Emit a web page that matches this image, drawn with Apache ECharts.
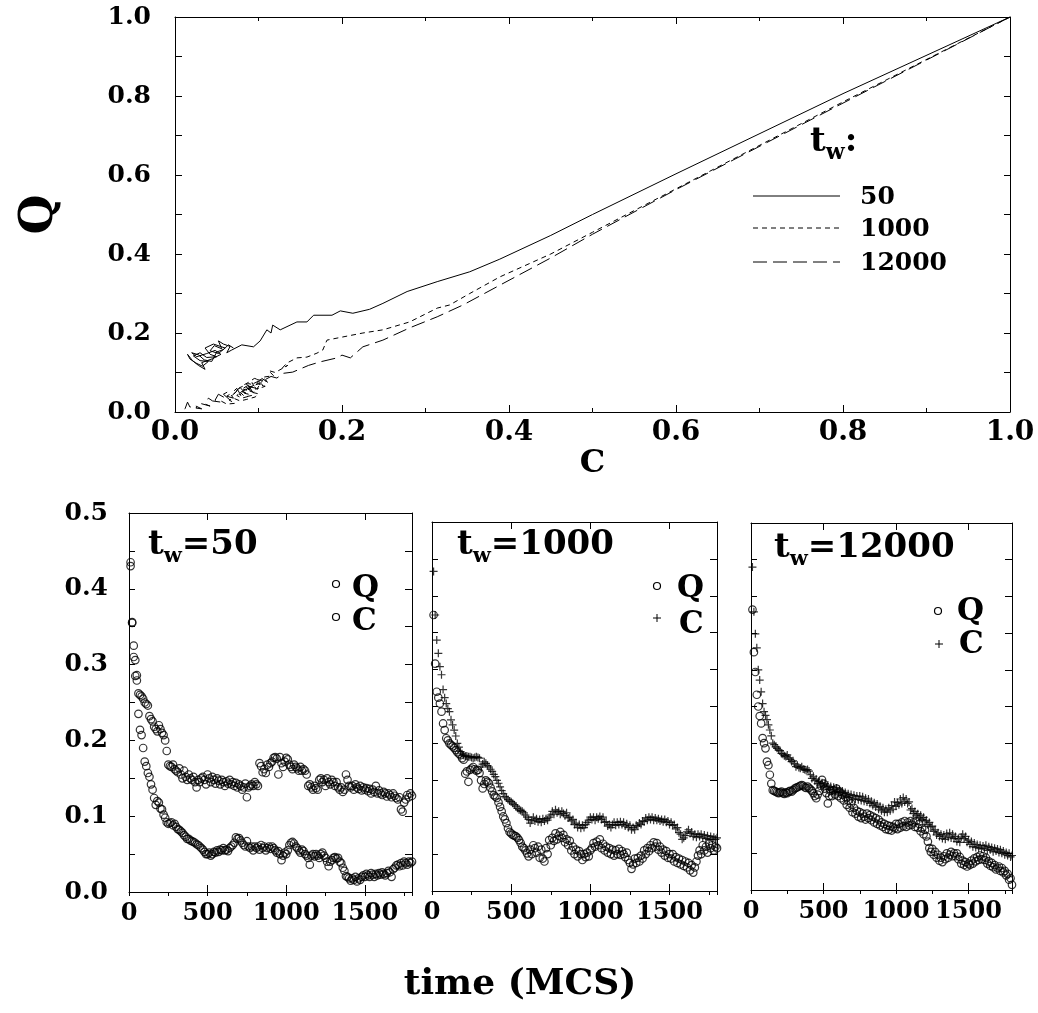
<!DOCTYPE html>
<html><head><meta charset="utf-8">
<script src="https://cdn.jsdelivr.net/npm/echarts@6/dist/echarts.min.js"></script>
<style>html,body{margin:0;padding:0;background:#fff}#c{width:1038px;height:1013px}</style>
</head><body><div id="c"></div>
<script>
// ---------------- data ----------------
// top panel: parametric Q vs C curves, one per waiting time t_w
const topC50 = [1.0,0.8,0.6,0.5,0.45,0.389,0.353,0.314,0.278,0.249,0.233,0.213,0.198,0.188,0.166,0.158,0.146,0.126,0.117,0.115,0.11,0.102,0.094,0.08,0.068,
  0.062,0.066,0.058,0.052,0.056,0.047,0.042,0.052,0.06,0.046,0.036,0.042,0.05,0.038,0.03,0.022,0.03,0.04,0.033,0.025,
  0.018,0.015,0.021,0.028,0.036,0.032,0.045,0.055,0.048,0.038,0.026,0.02,0.028,0.035,0.044,0.05,0.058,0.064,0.07];
const topQ50 = [1.0,0.806,0.603,0.5,0.447,0.387,0.355,0.33,0.305,0.275,0.26,0.25,0.256,0.245,0.245,0.228,0.228,0.208,0.22,0.2,0.208,0.18,0.165,0.17,0.157,
  0.15,0.166,0.172,0.18,0.16,0.168,0.155,0.148,0.162,0.172,0.162,0.146,0.14,0.138,0.15,0.142,0.13,0.128,0.116,0.124,
  0.134,0.146,0.13,0.118,0.108,0.125,0.135,0.146,0.156,0.148,0.14,0.15,0.145,0.132,0.128,0.152,0.158,0.17,0.162];
const topC1000 = [1.0,0.8,0.6,0.5,0.45,0.389,0.353,0.329,0.314,0.281,0.249,0.225,0.201,0.182,0.177,0.17,0.158,0.146,0.134,
  0.128,0.135,0.12,0.112,0.118,0.105,0.11,0.098,0.102,0.092,0.096,0.085,0.09,0.1,0.094,0.082,0.088,0.078,0.084,0.092,0.08,0.074,0.086,0.095,0.088,0.078,0.072,0.068,
  0.075,0.085,0.09,0.1,0.108,0.098,0.105,0.095,0.088,0.082,0.092,0.1,0.096,0.086,0.078,0.07,0.065,0.072,0.062,0.055];
const topQ1000 = [1.0,0.785,0.565,0.455,0.4,0.342,0.3,0.271,0.263,0.228,0.208,0.2,0.19,0.182,0.157,0.149,0.139,0.137,0.124,
  0.11,0.118,0.1,0.105,0.092,0.088,0.078,0.082,0.07,0.074,0.062,0.066,0.055,0.06,0.05,0.058,0.045,0.05,0.038,0.042,0.035,0.042,0.06,0.068,0.072,0.062,0.05,0.04,
  0.055,0.048,0.062,0.072,0.065,0.058,0.08,0.085,0.075,0.068,0.05,0.046,0.038,0.032,0.028,0.035,0.03,0.022,0.02,0.028];
const topC12000 = [1.0,0.8,0.6,0.5,0.45,0.389,0.345,0.314,0.281,0.249,0.225,0.21,0.2,0.194,0.174,0.16,0.141,0.13,0.122,
  0.115,0.108,0.112,0.104,0.098,0.106,0.1,0.092,0.097,0.09,0.085,0.093,0.088,0.08,0.084,0.078,0.072,0.079,0.074,0.068,
  0.062,0.07,0.064,0.058,0.066,0.058,0.052,0.048,0.055,0.045,0.04,0.036,0.042,0.03,0.025,0.032,0.022,0.018,0.015,0.012,0.01,0.008];
const topQ12000 = [1.0,0.782,0.563,0.45,0.39,0.321,0.271,0.241,0.213,0.182,0.165,0.137,0.144,0.137,0.127,0.118,0.101,0.098,0.086,
  0.09,0.082,0.074,0.085,0.072,0.066,0.078,0.07,0.06,0.064,0.056,0.05,0.068,0.058,0.048,0.062,0.052,0.042,0.06,0.048,
  0.04,0.035,0.052,0.045,0.03,0.038,0.045,0.03,0.025,0.028,0.035,0.02,0.015,0.022,0.01,0.008,0.018,0.012,0.025,0.008,0.004,0.0];

// bottom panels: Q(t) and C(t), sampled every 10 MCS from t=10 to t=1800
const timeStep = 10;
const Q50 = [
 .435,.356,.325,.306,.286,.262,.26,.258,.255,.25,
 .248,.246,.232,.228,.225,.218,.215,.212,.22,.215,
 .21,.207,.2,.186,.168,.166,.165,.168,.162,.16,
 .158,.163,.155,.15,.16,.152,.148,.155,.15,.148,
 .152,.145,.138,.148,.145,.15,.152,.148,.142,.155,
 .15,.145,.152,.148,.143,.15,.147,.142,.148,.145,
 .14,.146,.143,.148,.142,.145,.14,.144,.138,.142,
 .14,.135,.138,.143,.125,.138,.14,.142,.14,.145,
 .142,.14,.17,.166,.158,.162,.157,.168,.165,.17,
 .172,.177,.178,.176,.155,.178,.17,.165,.172,.177,
 .175,.168,.165,.162,.168,.165,.163,.16,.165,.16,
 .162,.16,.155,.14,.142,.138,.135,.14,.137,.135,
 .148,.15,.145,.148,.14,.15,.145,.142,.148,.145,
 .14,.145,.138,.135,.138,.132,.135,.155,.148,.14,
 .138,.14,.135,.142,.138,.136,.14,.134,.138,.135,
 .137,.133,.136,.13,.135,.132,.14,.13,.134,.13,
 .128,.132,.13,.126,.13,.128,.125,.13,.127,.124,
 .122,.125,.109,.106,.118,.122,.128,.125,.13,.127];
const C50 = [
 .43,.355,.31,.285,.279,.235,.214,.207,.19,.172,
 .166,.157,.152,.142,.135,.124,.115,.12,.118,.11,
 .109,.102,.098,.092,.09,.091,.092,.088,.09,.086,
 .083,.082,.08,.078,.075,.073,.07,.07,.068,.067,
 .066,.065,.063,.062,.06,.058,.056,.053,.05,.05,
 .052,.048,.05,.053,.052,.055,.053,.056,.055,.058,
 .055,.056,.054,.058,.06,.062,.065,.072,.07,.071,
 .068,.065,.062,.06,.067,.06,.058,.06,.055,.06,
 .058,.06,.056,.062,.058,.06,.055,.058,.06,.057,
 .06,.058,.055,.052,.054,.05,.042,.048,.052,.05,
 .055,.062,.065,.066,.064,.06,.058,.055,.052,.056,
 .054,.05,.048,.045,.036,.048,.05,.047,.05,.048,
 .045,.05,.052,.048,.045,.04,.034,.04,.042,.045,
 .046,.044,.045,.04,.038,.032,.028,.021,.02,.018,
 .015,.018,.016,.02,.014,.018,.016,.02,.022,.02,
 .024,.022,.02,.025,.023,.02,.024,.022,.025,.023,
 .026,.024,.022,.025,.028,.026,.02,.03,.032,.035,
 .036,.034,.038,.035,.04,.038,.036,.04,.038,.04];
const Q1000 = [
 .374,.308,.27,.262,.254,.243,.227,.218,.207,.204,
 .2,.198,.196,.194,.191,.188,.186,.184,.18,.178,
 .159,.162,.148,.164,.166,.168,.165,.163,.164,.16,
 .15,.139,.145,.15,.148,.146,.14,.135,.13,.128,
 .126,.12,.114,.108,.101,.097,.092,.085,.08,.078,
 .076,.075,.074,.072,.069,.065,.06,.058,.055,.051,
 .047,.056,.05,.062,.058,.052,.06,.045,.056,.044,
 .04,.058,.05,.069,.062,.072,.068,.078,.07,.075,
 .08,.072,.076,.066,.07,.062,.068,.055,.06,.05,
 .056,.047,.054,.05,.042,.05,.046,.052,.047,.055,
 .058,.065,.06,.067,.062,.07,.058,.064,.055,.06,
 .052,.058,.05,.056,.048,.055,.05,.057,.049,.054,
 .05,.046,.052,.042,.038,.03,.036,.044,.038,.045,
 .04,.048,.044,.055,.05,.058,.054,.062,.058,.066,
 .06,.065,.056,.06,.052,.056,.048,.054,.045,.05,
 .044,.05,.04,.046,.038,.044,.036,.042,.034,.04,
 .032,.038,.028,.035,.025,.032,.04,.048,.055,.05,
 .062,.055,.06,.052,.064,.058,.062,.055,.06,.058];
const C1000 = [
 .433,.374,.34,.322,.304,.293,.273,.262,.254,.247,
 .243,.232,.225,.218,.21,.2,.195,.189,.186,.184,
 .183,.183,.182,.182,.181,.18,.181,.182,.181,.18,
 .168,.172,.175,.173,.17,.168,.165,.162,.158,.155,
 .15,.146,.141,.136,.132,.128,.126,.124,.122,.121,
 .119,.117,.115,.112,.11,.109,.108,.106,.103,.1,
 .097,.092,.096,.1,.095,.098,.094,.097,.093,.098,
 .095,.098,.096,.1,.103,.108,.104,.11,.106,.108,
 .104,.108,.105,.102,.106,.099,.1,.095,.097,.09,
 .092,.086,.09,.085,.089,.086,.09,.093,.096,.1,
 .097,.1,.096,.1,.098,.101,.097,.1,.093,.094,
 .088,.09,.086,.09,.093,.089,.093,.09,.094,.09,
 .093,.088,.091,.086,.089,.083,.086,.083,.089,.088,
 .092,.09,.095,.094,.099,.096,.1,.097,.1,.096,
 .099,.096,.098,.095,.097,.094,.097,.093,.095,.09,
 .093,.089,.09,.084,.086,.079,.077,.07,.072,.075,
 .08,.083,.078,.08,.074,.077,.073,.077,.074,.077,
 .072,.076,.071,.075,.07,.074,.07,.073,.07,.072];
const Q12000 = [
 .382,.324,.297,.266,.25,.237,.227,.207,.2,.193,
 .175,.17,.157,.145,.136,.135,.134,.133,.132,.133,
 .134,.132,.131,.133,.132,.134,.135,.134,.136,.138,
 .139,.14,.141,.142,.143,.142,.14,.139,.141,.139,
 .137,.135,.132,.128,.125,.13,.135,.142,.15,.145,
 .138,.132,.118,.128,.135,.128,.136,.13,.138,.128,
 .134,.125,.13,.122,.127,.116,.122,.112,.118,.106,
 .112,.104,.108,.1,.106,.098,.104,.1,.096,.104,
 .098,.102,.095,.1,.092,.098,.09,.096,.088,.092,
 .086,.09,.083,.088,.082,.087,.081,.086,.084,.09,
 .083,.09,.085,.092,.087,.094,.086,.092,.088,.094,
 .089,.092,.086,.094,.085,.09,.08,.084,.076,.082,
 .073,.066,.057,.052,.056,.048,.052,.044,.048,.04,
 .044,.038,.046,.042,.05,.044,.048,.052,.046,.05,
 .046,.05,.042,.045,.036,.04,.034,.038,.032,.036,
 .034,.04,.036,.043,.039,.045,.041,.047,.042,.046,
 .041,.044,.036,.039,.033,.037,.031,.034,.028,.03,
 .032,.026,.03,.024,.026,.02,.022,.014,.016,.007];
const C12000 = [
 .44,.379,.349,.33,.3,.286,.27,.254,.243,.238,
 .232,.225,.218,.21,.2,.198,.195,.193,.191,.19,
 .186,.185,.183,.182,.184,.18,.178,.175,.176,.172,
 .168,.17,.167,.166,.168,.165,.164,.163,.164,.162,
 .157,.152,.155,.149,.151,.145,.148,.143,.146,.141,
 .145,.139,.143,.137,.141,.136,.14,.134,.139,.133,
 .137,.132,.135,.129,.133,.127,.131,.126,.13,.124,
 .129,.124,.128,.123,.128,.122,.127,.121,.125,.12,
 .124,.118,.121,.115,.119,.113,.117,.11,.114,.108,
 .112,.106,.11,.106,.112,.108,.115,.11,.12,.114,
 .119,.116,.124,.118,.126,.12,.124,.118,.12,.109,
 .111,.104,.107,.101,.104,.098,.102,.096,.099,.094,
 .095,.089,.092,.086,.087,.08,.082,.075,.078,.073,
 .076,.07,.075,.069,.077,.072,.078,.071,.076,.07,
 .073,.066,.07,.065,.072,.076,.07,.073,.065,.068,
 .062,.066,.059,.064,.058,.062,.057,.061,.056,.06,
 .057,.061,.054,.059,.055,.058,.052,.057,.053,.056,
 .051,.055,.05,.053,.048,.051,.047,.05,.045,.047];

const legendNames = ['50', '1000', '12000'];
const panelNames = ['50', '1000', '12000'];

// ---------------- helpers ----------------
const FONT = 'DejaVu Serif';
const txt = (size) => ({fontFamily: FONT, fontWeight: 'bold', fontSize: size, color: '#000'});
const BLACK = '#000';
const zip = (a, b) => a.slice(0, Math.min(a.length, b.length)).map((v, i) => [v, b[i]]);
const timed = (arr) => arr.map((v, i) => [(i + 1) * timeStep, v]);

const xAxes = [], yAxes = [];
function base(o) {
  return Object.assign({
    type: 'value', splitLine: {show: false},
    axisLine: {show: true, onZero: false, lineStyle: {color: BLACK, width: 1}},
    axisTick: {show: true, inside: true, length: 6, lineStyle: {color: BLACK, width: 1}},
    axisLabel: {show: false},
    minorTick: {show: false}
  }, o);
}
const addX = (o) => (xAxes.push(base(o)), xAxes.length - 1);
const addY = (o) => (yAxes.push(base(o)), yAxes.length - 1);
const tick = (len) => ({show: true, inside: true, length: len, lineStyle: {color: BLACK, width: 1}});
const minor = (len) => ({show: true, splitNumber: 2, length: len, lineStyle: {color: BLACK, width: 1}});

const grids = [
  {left: 175, top: 17, width: 835, height: 395},
  {left: 129, top: 513, width: 283, height: 379},
  {left: 432, top: 522, width: 285, height: 369},
  {left: 751, top: 523, width: 261, height: 367}
];

// top plot axes
const tx = addX({gridIndex: 0, min: 0, max: 1, interval: 0.2, axisTick: tick(7), minorTick: minor(4),
  axisLabel: Object.assign({show: true, margin: 7, hideOverlap: false, formatter: v => v.toFixed(1)}, txt(28)),
  name: 'C', nameLocation: 'middle', nameGap: 36, nameTextStyle: txt(32)});
addX({gridIndex: 0, position: 'top', min: 0, max: 1, interval: 0.2, axisTick: tick(7), minorTick: minor(4)});
const ty = addY({gridIndex: 0, min: 0, max: 1, interval: 0.2, axisTick: tick(7), minorTick: minor(7),
  axisLabel: Object.assign({show: true, margin: 24, formatter: v => v.toFixed(1)}, txt(25)),
  name: 'Q', nameLocation: 'middle', nameGap: 112, nameTextStyle: txt(46)});
addY({gridIndex: 0, position: 'right', min: 0, max: 1, interval: 0.2, axisTick: tick(6), minorTick: minor(6)});

// bottom panel axes
const panelAxes = [];
for (let g = 1; g <= 3; g++) {
  const x = addX({gridIndex: g, min: 0, max: 1800, interval: 500, axisTick: tick(7),
    axisLabel: Object.assign({show: true, margin: 10, showMaxLabel: false, hideOverlap: false, formatter: v => String(v)}, txt(24))});
  addX({gridIndex: g, min: 0, max: 1800, interval: 250, axisLine: {show: false}, axisTick: tick(4)});
  addX({gridIndex: g, position: 'top', min: 0, max: 1800, interval: 500, axisTick: tick(7)});
  addX({gridIndex: g, position: 'top', min: 0, max: 1800, interval: 250, axisLine: {show: false}, axisTick: tick(4)});
  const yl = g === 1
    ? Object.assign({show: true, margin: 21, formatter: v => v.toFixed(1)}, txt(25))
    : {show: false};
  const y = addY({gridIndex: g, min: 0, max: 0.5, interval: 0.1, axisTick: tick(6), minorTick: minor(6), axisLabel: yl});
  addY({gridIndex: g, position: 'right', min: 0, max: 0.5, interval: 0.1, axisTick: tick(7), minorTick: minor(7)});
  panelAxes.push({x, y});
}

// ---------------- series ----------------
const lineS = (name, c, q, dash) => ({
  type: 'line', name, xAxisIndex: tx, yAxisIndex: ty, data: zip(c, q), showSymbol: false, symbol: 'none',
  lineStyle: {color: BLACK, width: 1, type: dash}, silent: true, z: 3
});
const CIRCLE = 'circle';
const PLUS = 'path://M0,5L10,5M5,0L5,10';
const dotS = (name, arr, p, sym) => ({
  type: 'scatter', name, xAxisIndex: panelAxes[p].x, yAxisIndex: panelAxes[p].y, data: timed(arr),
  symbol: sym, symbolSize: sym === CIRCLE ? 7.5 : 8,
  itemStyle: {color: 'transparent', borderColor: BLACK, borderWidth: 1.2}, silent: true
});

const series = [
  lineS('50', topC50, topQ50, 'solid'),
  lineS('1000', topC1000, topQ1000, [5, 4]),
  lineS('12000', topC12000, topQ12000, [14, 6]),
  dotS('Q', Q50, 0, CIRCLE), dotS('C', C50, 0, CIRCLE),
  dotS('Q', Q1000, 1, CIRCLE), dotS('C', C1000, 1, PLUS),
  dotS('Q', Q12000, 2, CIRCLE), dotS('C', C12000, 2, PLUS)
];

// ---------------- annotations (legends / titles) ----------------
const mctx = document.createElement('canvas').getContext('2d');
const measure = (s, size) => { mctx.font = `bold ${size}px "${FONT}"`; return mctx.measureText(s).width; };
const T = (text, x, y, size, align, vAlign) => ({type: 'text', x, y, silent: true,
  style: {text, fill: BLACK, font: `bold ${size}px "${FONT}"`, align: align || 'left', verticalAlign: vAlign || 'top'}});
const L = (x1, y1, x2, y2, dash) => ({type: 'line', silent: true, shape: {x1, y1, x2, y2},
  style: {stroke: BLACK, lineWidth: 1, lineDash: dash || null}});
const circ = (cx, cy) => ({type: 'circle', silent: true, shape: {cx, cy, r: 3.5}, style: {fill: 'none', stroke: BLACK, lineWidth: 1.2}});
const plus = (cx, cy) => [L(cx - 4, cy, cx + 4, cy), L(cx, cy - 4, cx, cy + 4)];

// subscripted "t_w" title helper
function tw(x, y, tail, bigSize, subSize) {
  const wT = measure('t', bigSize);
  const wW = measure('w', subSize);
  return [
    T('t', x, y, bigSize),
    T('w', x + wT, y + bigSize * 0.52, subSize),
    T(tail, x + wT + wW, y, bigSize)
  ];
}

const graphics = [];
// top legend
graphics.push(...tw(810, 125, ':', 34, 22));
graphics.push(L(753, 196, 840, 196));
graphics.push(L(753, 228, 840, 228, [5, 4]));
graphics.push(L(753, 262, 840, 262, [14, 6]));
graphics.push(T(legendNames[0], 860, 197, 25, 'left', 'middle'));
graphics.push(T(legendNames[1], 860, 229, 25, 'left', 'middle'));
graphics.push(T(legendNames[2], 860, 263, 25, 'left', 'middle'));
// panel titles
graphics.push(...tw(148, 528, '=' + panelNames[0], 34, 21));
graphics.push(...tw(457, 528, '=' + panelNames[1], 34, 21));
graphics.push(...tw(774, 531, '=' + panelNames[2], 34, 21));
// panel legends
graphics.push(circ(336, 584), T('Q', 352, 589, 31, 'left', 'middle'));
graphics.push(circ(336, 617), T('C', 352, 622, 31, 'left', 'middle'));
graphics.push(circ(657, 586), T('Q', 677, 589, 31, 'left', 'middle'));
graphics.push(...plus(657, 618), T('C', 679, 625, 31, 'left', 'middle'));
graphics.push(circ(938, 611), T('Q', 957, 612, 31, 'left', 'middle'));
graphics.push(...plus(939, 644), T('C', 959, 645, 31, 'left', 'middle'));
// common x title of the bottom row
graphics.push(T('time (MCS)', 520, 985, 36, 'center', 'middle'));

const chart = echarts.init(document.getElementById('c'), null, {renderer: 'canvas'});
chart.setOption({
  animation: false,
  backgroundColor: '#fff',
  grid: grids,
  xAxis: xAxes,
  yAxis: yAxes,
  series,
  graphic: graphics
});
</script>
</body></html>
